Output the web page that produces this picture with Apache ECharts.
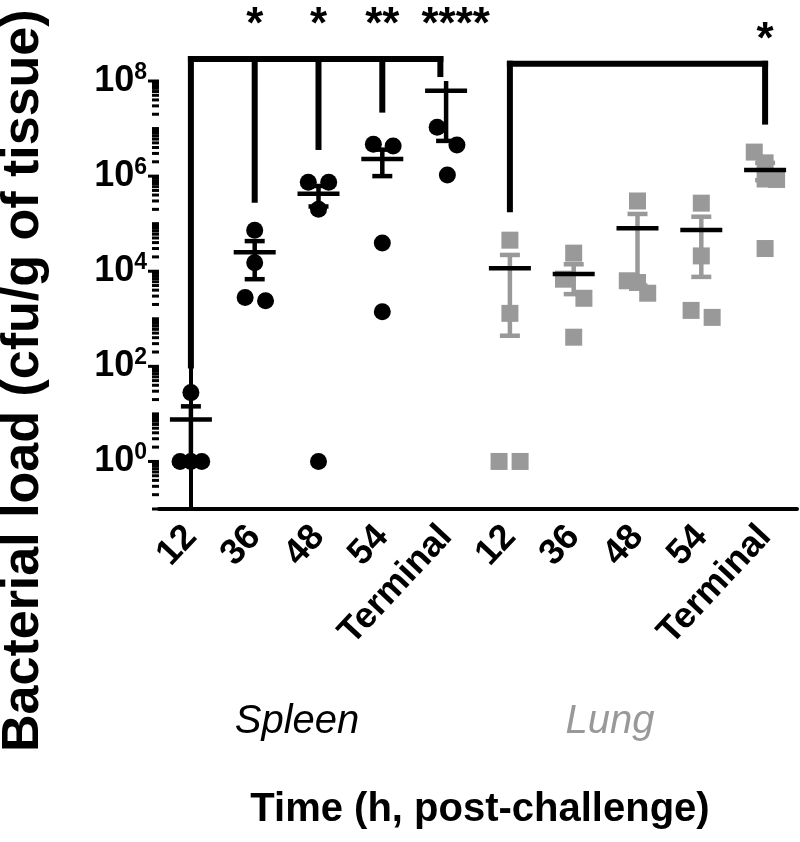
<!DOCTYPE html>
<html><head><meta charset="utf-8">
<script src="https://cdn.jsdelivr.net/npm/echarts@6/dist/echarts.min.js"></script>
<style>html,body{margin:0;padding:0;background:#fff}#c{width:800px;height:842px}</style>
</head><body><div id="c"></div>
<script>
// ---- data ----
const categories = ['12','36','48','54','Terminal','12','36','48','54','Terminal'];
const yTickLabelExps = [0,2,4,6,8];
// [groupIndex, jitter, value]
const spleenPoints = [
  [0,-0.17,1],[0,0,1],[0,0.17,1],[0,0,28],
  [1,0,7.3e4],[1,0,1.5e4],[1,-0.15,2.8e3],[1,0.17,2.4e3],
  [2,-0.16,7.4e5],[2,0.16,7.4e5],[2,0,2.0e5],[2,0,1],
  [3,-0.14,4.7e6],[3,0.17,4.3e6],[3,0,3.9e4],[3,0,1.4e3],
  [4,-0.14,1.07e7],[4,0.17,4.5e6],[4,0.02,1.05e6]
];
const lungPoints = [
  [5,-0.17,1],[5,0.16,1],[5,0,4.5e4],[5,0,1.3e3],
  [6,0,2.4e4],[6,-0.16,6.8e3],[6,0.16,2.7e3],[6,0,4.1e2],
  [7,0,3.0e5],[7,-0.16,6.3e3],[7,0,5.8e3],[7,0.16,3.45e3],
  [8,0,2.7e5],[8,0,2.1e4],[8,-0.16,1.5e3],[8,0.17,1.07e3],
  [9,-0.17,3.2e6],[9,0,1.9e6],[9,0,8.7e5],[9,0.18,8.5e5],[9,0,3.0e4]
];
const spleenMean  = [7.6, 2.5e4, 4.25e5, 2.3e6, 6.2e7];
const spleenLower = [1.0, 6.8e3, 2.3e5, 1.0e6, 5.5e6];
const spleenUpper = [14.4, 4.3e4, 6.2e5, 3.6e6, 1.2e8];
const lungMean  = [1.15e4, 8.7e3, 8.0e4, 7.4e4, 1.35e6];
const lungLower = [4.4e2, 3.3e3, 5.0e3, 7.6e3, 8.2e5];
const lungUpper = [2.2e4, 1.4e4, 1.6e5, 1.4e5, 1.9e6];
// significance brackets: [x1, v1, x2, v2]
const bracketSegments = [
  [0,1.04e2,0,2.9e8],[0,2.9e8,3.91,2.9e8],[3.91,2.9e8,3.91,1.4e8],
  [1,2.3e8,1,3.2e5],[2,2.3e8,2,4.1e6],[3,2.9e8,3,2.5e7],
  [5,2.0e5,5,2.3e8],[5,2.3e8,9,2.3e8],[9,2.3e8,9,1.4e7]
];
const sigX = [1,2,3,4.15,9];
const sigLabels = ['*','*','**','****','*'];
const sigValues = [1.45e9,1.45e9,1.45e9,1.45e9,6.9e8];
// minor tick structure
const tickDecades = [-1,0,1,2,3,4,5,6,7];
const tickMultipliers = [1,2,3,4,5,6,7,8,9];

const FONT = '"Liberation Sans", Arial, Helvetica, sans-serif';
const GRAY = '#999999';

const tickData = [];
tickDecades.forEach(n => tickMultipliers.forEach(k => {
  const major = (k === 1 && n >= 0 && n % 2 === 0) ? 1 : 0;
  tickData.push([-0.5, k * Math.pow(10, n), major]);
}));
tickData.push([-0.5, 1e8, 1]);

function errRenderer(barColor, meanColor) {
  return function (params, api) {
    const x = api.value(0);
    const pm = api.coord([x, api.value(1)]);
    const pl = api.coord([x, api.value(2)]);
    const ph = api.coord([x, api.value(3)]);
    const lw = 4.5;
    return { type: 'group', children: [
      { type: 'line', shape: { x1: pl[0], y1: pl[1], x2: ph[0], y2: ph[1] }, style: { stroke: barColor, lineWidth: lw } },
      { type: 'line', shape: { x1: pl[0]-10, y1: pl[1], x2: pl[0]+10, y2: pl[1] }, style: { stroke: barColor, lineWidth: lw } },
      { type: 'line', shape: { x1: ph[0]-10, y1: ph[1], x2: ph[0]+10, y2: ph[1] }, style: { stroke: barColor, lineWidth: lw } },
      { type: 'line', shape: { x1: pm[0]-21, y1: pm[1], x2: pm[0]+21, y2: pm[1] }, style: { stroke: meanColor, lineWidth: lw } }
    ]};
  };
}

const chart = echarts.init(document.getElementById('c'), null, { renderer: 'canvas' });
chart.setOption({
  animation: false,
  backgroundColor: '#fff',
  grid: { left: 159, right: 3, top: 81, bottom: 333, containLabel: false, outerBoundsMode: 'none' },
  xAxis: [
    { type: 'category', data: categories, boundaryGap: true,
      axisLine: { lineStyle: { color: '#000', width: 4 } },
      axisTick: { alignWithLabel: true, length: 12, lineStyle: { color: '#000', width: 4 } },
      axisLabel: { rotate: 47, margin: 22, color: '#000', fontSize: 36, fontWeight: 'bold', fontFamily: FONT, interval: 0 },
      splitLine: { show: false } },
    { type: 'value', min: -0.5, max: 9.5, show: false }
  ],
  yAxis: {
    type: 'log', logBase: 10, min: 0.1, max: 1e8, interval: 1,
    axisLine: { show: true, lineStyle: { color: '#000', width: 4 } },
    axisTick: { show: false },
    splitLine: { show: false },
    axisLabel: {
      margin: 12, color: '#000', fontSize: 36, fontWeight: 'bold', fontFamily: FONT,
      formatter: function (v) {
        const e = Math.round(Math.log10(v));
        if (yTickLabelExps.indexOf(e) < 0) return '';
        return '{b|10}{s|' + e + '}';
      },
      rich: {
        b: { fontSize: 36, fontWeight: 'bold', fontFamily: FONT, color: '#000', lineHeight: 40 },
        s: { fontSize: 23, fontWeight: 'bold', fontFamily: FONT, color: '#000', lineHeight: 22, verticalAlign: 'top' }
      }
    }
  },
  graphic: [
    { type: 'text', x: 24, y: 752, rotation: Math.PI / 2,
      style: { text: 'Bacterial load (cfu/g of tissue)', fontSize: 52, fontWeight: 'bold', fontFamily: FONT, fill: '#000', align: 'left', verticalAlign: 'middle' } },
    { type: 'text', x: 297, y: 722,
      style: { text: 'Spleen', fontSize: 40, fontStyle: 'italic', fontFamily: FONT, fill: '#000', align: 'center', verticalAlign: 'middle' } },
    { type: 'text', x: 610, y: 722,
      style: { text: 'Lung', fontSize: 40, fontStyle: 'italic', fontFamily: FONT, fill: GRAY, align: 'center', verticalAlign: 'middle' } },
    { type: 'text', x: 480, y: 810,
      style: { text: 'Time (h, post-challenge)', fontSize: 40, fontWeight: 'bold', fontFamily: FONT, fill: '#000', align: 'center', verticalAlign: 'middle' } }
  ],
  series: [
    { type: 'custom', name: 'yticks', xAxisIndex: 1, yAxisIndex: 0, silent: true, clip: false,
      data: tickData,
      renderItem: function (params, api) {
        const p = api.coord([api.value(0), api.value(1)]);
        const len = api.value(2) ? 11 : 7;
        return { type: 'line', shape: { x1: p[0] - len, y1: p[1], x2: p[0], y2: p[1] }, style: { stroke: '#000', lineWidth: 3 } };
      } },
    { type: 'scatter', name: 'Spleen', xAxisIndex: 1, yAxisIndex: 0, symbol: 'circle', symbolSize: 17,
      itemStyle: { color: '#000', opacity: 1 },
      data: spleenPoints.map(p => [p[0] + p[1], p[2]]) },
    { type: 'scatter', name: 'Lung', xAxisIndex: 1, yAxisIndex: 0, symbol: 'rect', symbolSize: 17,
      itemStyle: { color: GRAY, opacity: 1 },
      data: lungPoints.map(p => [p[0] + p[1], p[2]]) },
    { type: 'custom', name: 'Spleen mean', xAxisIndex: 1, yAxisIndex: 0, clip: true, z: 5,
      data: spleenMean.map((m, i) => [i, m, spleenLower[i], spleenUpper[i]]),
      renderItem: errRenderer('#000', '#000') },
    { type: 'custom', name: 'Lung mean', xAxisIndex: 1, yAxisIndex: 0, clip: true, z: 5,
      data: lungMean.map((m, i) => [i + 5, m, lungLower[i], lungUpper[i]]),
      renderItem: errRenderer(GRAY, '#000') },
    { type: 'custom', name: 'brackets', xAxisIndex: 1, yAxisIndex: 0, clip: false, silent: true,
      data: bracketSegments,
      renderItem: function (params, api) {
        const a = api.coord([api.value(0), api.value(1)]);
        const b = api.coord([api.value(2), api.value(3)]);
        return { type: 'line', shape: { x1: a[0], y1: a[1], x2: b[0], y2: b[1] }, style: { stroke: '#000', lineWidth: 6, lineCap: 'square' } };
      } },
    { type: 'custom', name: 'stars', xAxisIndex: 1, yAxisIndex: 0, clip: false, silent: true,
      data: sigX.map((x, i) => [x, sigValues[i], i]),
      renderItem: function (params, api) {
        const p = api.coord([api.value(0), api.value(1)]);
        return { type: 'text', x: p[0], y: p[1],
          style: { text: sigLabels[api.value(2)], fontSize: 44, fontWeight: 'bold', fontFamily: FONT, fill: '#000', align: 'center', verticalAlign: 'middle' } };
      } }
  ]
});
</script></body></html>
